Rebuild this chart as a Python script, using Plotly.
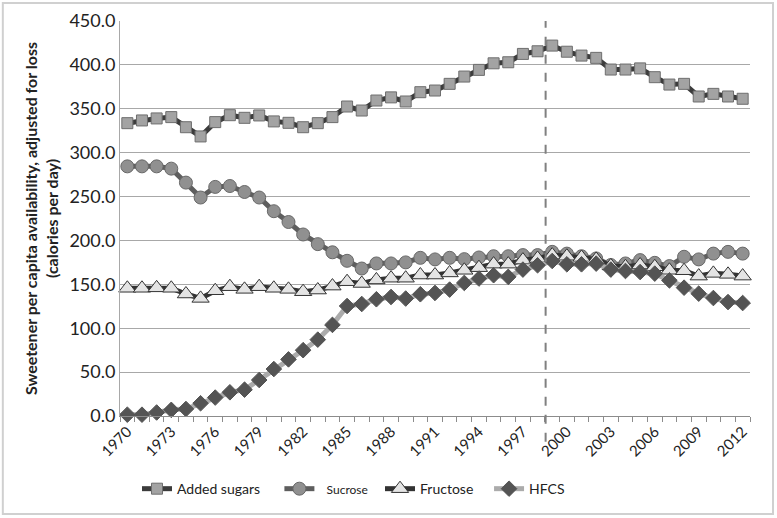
import plotly.graph_objects as go

years = list(range(1970, 2013))

added_sugars = [333.6, 336.7, 339.0, 340.5, 329.0, 318.5, 334.8, 342.7, 339.7, 342.4,
                335.6, 334.0, 329.0, 333.6, 340.5, 352.6, 348.0, 359.4, 363.0, 358.3,
                368.9, 370.8, 378.4, 386.7, 394.3, 401.8, 403.0, 412.5, 415.5, 422.0,
                415.0, 410.6, 408.0, 394.7, 394.7, 396.0, 386.0, 377.6, 378.4, 364.0,
                367.0, 364.0, 361.4]

sucrose = [284.4, 284.4, 284.4, 281.8, 265.9, 248.9, 261.0, 262.0, 255.2, 248.9,
           233.3, 221.0, 206.8, 195.8, 186.5, 176.8, 168.0, 173.8, 173.8, 175.0,
           180.2, 178.4, 180.2, 178.7, 180.6, 182.0, 182.0, 183.3, 183.3, 187.0,
           185.0, 182.0, 179.5, 172.0, 173.8, 177.6, 174.5, 170.8, 181.4, 178.4,
           185.0, 187.0, 185.0]

fructose = [145.5, 145.5, 146.0, 145.5, 139.0, 134.0, 142.7, 147.3, 144.3, 147.3,
            145.5, 144.3, 141.6, 143.5, 148.0, 153.0, 151.0, 155.0, 157.0, 157.0,
            160.6, 160.6, 163.0, 166.0, 169.0, 173.0, 173.0, 177.6, 179.5, 183.3,
            182.0, 180.6, 178.4, 171.0, 170.0, 172.0, 170.0, 166.0, 165.5, 159.4,
            162.5, 161.4, 159.4]

hfcs = [1.5, 1.5, 4.0, 7.0, 8.0, 14.5, 21.0, 27.0, 30.0, 41.0,
        53.5, 64.5, 75.0, 87.0, 103.8, 125.3, 127.6, 133.0, 135.6, 133.8,
        138.7, 140.2, 144.0, 151.6, 156.6, 160.4, 158.5, 166.8, 171.7, 176.6,
        172.8, 172.8, 173.6, 166.8, 165.2, 164.0, 162.2, 154.5, 146.2, 139.4,
        134.4, 129.8, 128.7]

tick_years = list(range(1970, 2013, 3))
y_ticks = [0, 50, 100, 150, 200, 250, 300, 350, 400, 450]
marker_year = 1998.55

FONT = "Lato"
PAD = "&nbsp;"

fig = go.Figure()

series = [
    ("Added sugars" + PAD * 4, added_sugars, "#3c3c3c", "square", "#a3a3a3", "#6e6e6e", 11),
    (PAD * 2 + "<span style='font-size:12px'>Sucrose</span>" + PAD * 2, sucrose, "#5e5e5e", "circle", "#909090", "#686868", 13),
    ("Fructose" + PAD * 3, fructose, "#333333", "triangle-up", "#e4e4e4", "#333333", 15),
    ("HFCS", hfcs, "#ababab", "diamond", "#545454", "#545454", 12),
]

for name, vals, lc, sym, mfill, mline, msize in series:
    fig.add_trace(go.Scatter(
        x=years, y=vals, name=name, mode="lines+markers",
        line=dict(color=lc, width=5),
        marker=dict(symbol=sym, size=msize, color=mfill, line=dict(color=mline, width=1)),
        cliponaxis=False,
    ))

fig.add_shape(type="line", xref="x", yref="paper", x0=marker_year, x1=marker_year,
              y0=-0.065, y1=1.0, line=dict(color="#808080", width=2, dash="dash"))

# outer chart border
fig.add_shape(type="rect", xref="paper", yref="paper",
              x0=-0.186, x1=1.0365, y0=-0.248, y1=1.0456,
              line=dict(color="#d0d0d0", width=2))

fig.update_layout(
    width=777, height=518,
    margin=dict(l=120, r=27, t=21, b=102, autoexpand=False),
    paper_bgcolor="white", plot_bgcolor="white",
    font=dict(family=FONT, color="#222222"),
    showlegend=True,
    legend=dict(orientation="h", x=0.027, xanchor="left", y=-0.185, yanchor="middle",
                font=dict(size=14, family=FONT), itemwidth=30, traceorder="normal"),
    xaxis=dict(
        range=[1969.5, 2012.5], tickmode="array", tickvals=tick_years,
        ticktext=[str(y) for y in tick_years], tickangle=-45,
        tickfont=dict(size=15, family=FONT), ticks="", showgrid=False,
        showline=True, linecolor="#8c8c8c", linewidth=1, zeroline=False,
        automargin=False,
        minor=dict(tick0=1969.5, dtick=1, ticks="outside", ticklen=5,
                   tickcolor="#8c8c8c", showgrid=False),
    ),
    yaxis=dict(
        range=[0, 450], tickmode="array", tickvals=y_ticks,
        ticktext=[f"{v:.1f}" for v in y_ticks],
        tickfont=dict(size=18, family=FONT), ticks="",
        showgrid=True, gridcolor="#a8a8a8", gridwidth=1,
        showline=True, linecolor="#a8a8a8", linewidth=1, zeroline=False,
        automargin=False,
        title=dict(text="<b>Sweetener per capita availability, adjusted for loss<br>(calories per day)</b>",
                   font=dict(size=16, family=FONT), standoff=6),
    ),
)

fig.write_html("out.html", config={"displayModeBar": False},
               post_script="document.body.style.margin='0';")
